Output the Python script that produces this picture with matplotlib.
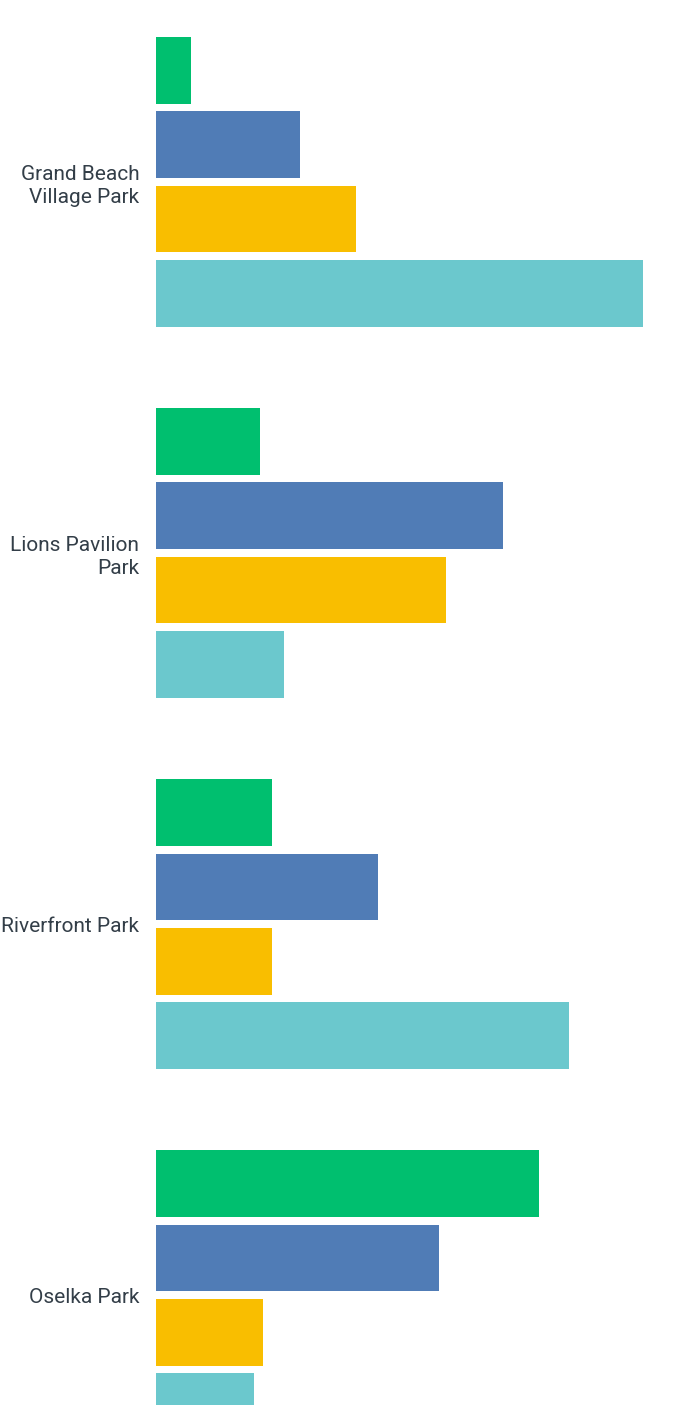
import numpy as np
import matplotlib.pyplot as plt

# Share of responses per park (each row sums to ~100%)
parks = ['Grand Beach\nVillage Park', 'Lions Pavilion\nPark', 'Riverfront Park', 'Oselka Park']
answer_1 = [4.0, 12.0, 13.4, 44.1]
answer_2 = [16.6, 40.0, 25.6, 32.6]
answer_3 = [23.0, 33.4, 13.4, 12.3]
answer_4 = [56.1, 14.8, 47.6, 11.3]

series = [answer_1, answer_2, answer_3, answer_4]
colors = ['#00BF6F', '#507CB6', '#F9BE00', '#6BC8CD']

fig = plt.figure(figsize=(6.82, 14.05), dpi=100)
ax = fig.add_axes([156 / 682, 0, 1 - 156 / 682, 1])

y = np.arange(len(parks))
offsets = [-0.3, -0.1, 0.1, 0.3]
for vals, off, c in zip(series, offsets, colors):
    ax.barh(y + off, vals, height=0.18, color=c, edgecolor='none')

ax.set_xlim(0, 60.6)
ax.set_ylim(3.296, -0.49)

ax.set_yticks(y)
ax.set_yticklabels(parks, fontsize=15, color='#333E48', family='Roboto',
                   linespacing=1.3)
ax.tick_params(axis='y', length=0, pad=12)
ax.tick_params(axis='x', bottom=False, labelbottom=False)
for s in ax.spines.values():
    s.set_visible(False)

fig.savefig('out.png', dpi=100)
